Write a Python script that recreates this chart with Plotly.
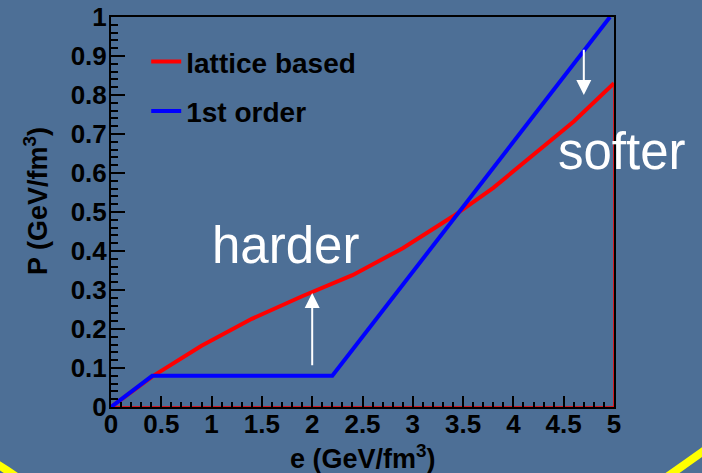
import plotly.graph_objects as go

# Equation of state P(e): lattice-based parametrisation vs. a 1st-order transition
e_lattice = [0.0, 0.42, 0.9, 1.4, 1.9, 2.4, 2.9, 3.4, 3.8, 4.2, 4.6, 5.0]
p_lattice = [0.0, 0.08, 0.157, 0.226, 0.284, 0.338, 0.407, 0.489, 0.562, 0.648, 0.732, 0.83]

e_first = [0.0, 0.41, 2.2, 4.96]
p_first = [0.0, 0.08, 0.08, 1.0]

x_ticks = [0, 0.5, 1, 1.5, 2, 2.5, 3, 3.5, 4, 4.5, 5]
y_ticks = [0, 0.1, 0.2, 0.3, 0.4, 0.5, 0.6, 0.7, 0.8, 0.9, 1]

BG = "#4d6f96"
FONT = "Liberation Sans, Arial, sans-serif"

W, H = 702, 473
ML, MR, MT, MB = 111, 88, 17, 66
PW, PH = W - ML - MR, H - MT - MB


def px_to_paper(px, py):
    return (px - ML) / PW, (H - MB - py) / PH


fig = go.Figure()

# thin closing outline of the lattice graph (down the right edge, back along e axis)
fig.add_trace(go.Scatter(
    x=[e_lattice[-1], e_lattice[-1], e_lattice[0]],
    y=[p_lattice[-1], 0, 0],
    mode="lines", line=dict(color="#ff0000", width=1.5),
    showlegend=False, hoverinfo="skip",
))
fig.add_trace(go.Scatter(
    x=e_lattice, y=p_lattice, mode="lines", name="lattice based",
    line=dict(color="#ff0000", width=4), legendgroup="a",
))
fig.add_trace(go.Scatter(
    x=e_first, y=p_first, mode="lines", name="1st order",
    line=dict(color="#0000ff", width=4), legendgroup="b",
))

tick_font = dict(family=FONT, size=26, color="black", weight="bold")
title_font = dict(family=FONT, size=27, color="black", weight="bold")

fig.update_xaxes(
    range=[0, 5], tickvals=x_ticks, ticks="inside", ticklen=11, tickwidth=2,
    tickcolor="black", minor=dict(dtick=0.1, ticks="inside", ticklen=5,
                                  tickwidth=2, tickcolor="black", showgrid=False),
    showline=True, linecolor="black", linewidth=2, mirror=True,
    showgrid=False, zeroline=False, tickfont=tick_font, automargin=False,
    ticklabelstandoff=-7,
)
fig.update_yaxes(
    range=[0, 1], tickvals=y_ticks, ticks="inside", ticklen=14, tickwidth=2,
    tickcolor="black", minor=dict(dtick=0.02, ticks="inside", ticklen=7,
                                  tickwidth=2, tickcolor="black", showgrid=False),
    showline=True, linecolor="black", linewidth=2, mirror=True,
    showgrid=False, zeroline=False, tickfont=tick_font, automargin=False,
    ticklabelstandoff=-3,
)

# axis titles
tx, ty = px_to_paper(363, 457)
fig.add_annotation(x=tx, y=ty, xref="paper", yref="paper",
                   text="e (GeV/fm<sup>3</sup>)", showarrow=False,
                   xanchor="center", yanchor="middle", font=title_font)
tx, ty = px_to_paper(36, 201)
fig.add_annotation(x=tx, y=ty, xref="paper", yref="paper",
                   text="P (GeV/fm<sup>3</sup>)", showarrow=False, textangle=-90,
                   xanchor="center", yanchor="middle", font=title_font)

# "harder" / "softer" labels with arrows
note_font = dict(family=FONT, size=51, color="white")
fig.add_annotation(x=2.0, y=0.292, ax=2.0, ay=0.103, xref="x", yref="y",
                   axref="x", ayref="y", text="", showarrow=True,
                   arrowhead=2, arrowsize=1.5, arrowwidth=2, arrowcolor="white",
                   standoff=0)
fig.add_annotation(x=4.70, y=0.80, ax=4.70, ay=0.92, xref="x", yref="y",
                   axref="x", ayref="y", text="", showarrow=True,
                   arrowhead=2, arrowsize=1.5, arrowwidth=2, arrowcolor="white",
                   standoff=0)
fig.add_annotation(x=0.98, y=0.413, xref="x", yref="y", text="harder",
                   showarrow=False, xanchor="left", yanchor="middle", font=note_font)
fig.add_annotation(x=4.42, y=0.656, xref="x", yref="y", text="softer",
                   showarrow=False, xanchor="left", yanchor="middle", font=note_font)

# yellow slide border arcs in the bottom corners
def arc_path(p0, c, p1):
    (x0, y0), (cx, cy), (x1, y1) = [px_to_paper(*p) for p in (p0, c, p1)]
    return f"M{x0},{y0} Q{cx},{cy} {x1},{y1}"


for pts in [((-14, 458), (4, 467), (26, 484)),
            ((648, 490), (680, 468), (712, 445))]:
    fig.add_shape(type="path", xref="paper", yref="paper", path=arc_path(*pts),
                  line=dict(color="#ffff00", width=8), layer="above")

fig.update_layout(
    width=W, height=H,
    margin=dict(l=ML, r=MR, t=MT, b=MB, autoexpand=False),
    paper_bgcolor=BG, plot_bgcolor=BG,
    showlegend=True,
    legend=dict(x=0.07, y=0.949, xanchor="left", yanchor="top",
                bgcolor="rgba(0,0,0,0)", tracegroupgap=10,
                font=dict(family=FONT, size=28, color="black", weight="bold")),
)

fig.write_html("out.html")
